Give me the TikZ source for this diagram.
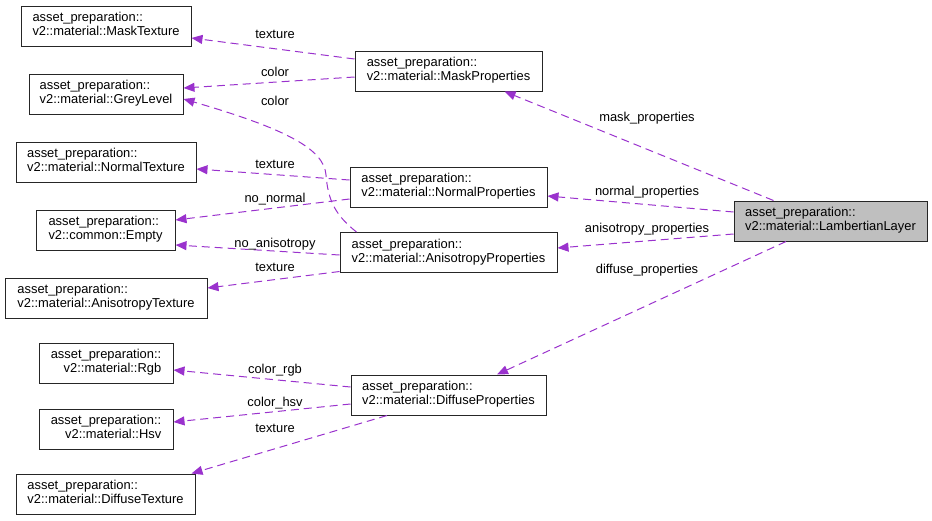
\documentclass[tikz,border=0pt]{standalone}
\usepackage{fontspec}
\setmainfont{Liberation Sans}
\usetikzlibrary{arrows.meta}
\definecolor{edgecol}{HTML}{9A32CD}
\definecolor{llfill}{HTML}{BFBFBF}
\newcommand\twoln[2]{\begin{tabular}{@{}l@{}}#1\\\hfill#2\hfill\end{tabular}}
\begin{document}
\begin{tikzpicture}[x=1pt,y=-1pt,
  font=\fontsize{12.9}{14}\selectfont,
  box/.style={draw=black!85, line width=1pt, minimum height=40pt, inner sep=0pt, fill=white},
  edge/.style={draw=edgecol, line width=1pt, dash pattern=on 8pt off 5pt,
    -{Triangle[length=11pt,width=9pt,fill=edgecol]}},
  lbl/.style={anchor=base, inner sep=0pt}]
\useasboundingbox (0,0) rectangle (932,520);
% left column
\node[box, minimum width=170pt] (mt) at (106,26) {\twoln{asset\_preparation::}{v2::material::MaskTexture}};
\node[box, minimum width=154pt] (gl) at (106,94) {\twoln{asset\_preparation::}{v2::material::GreyLevel}};
\node[box, minimum width=180pt] (nt) at (106,162) {\twoln{asset\_preparation::}{v2::material::NormalTexture}};
\node[box, minimum width=139pt] (em) at (105.5,230) {\twoln{asset\_preparation::}{v2::common::Empty}};
\node[box, minimum width=202pt] (at) at (106,298) {\twoln{asset\_preparation::}{v2::material::AnisotropyTexture}};
\node[box, minimum width=134pt] (rgb) at (106,363) {\twoln{asset\_preparation::}{v2::material::Rgb}};
\node[box, minimum width=134pt] (hsv) at (106,429) {\twoln{asset\_preparation::}{v2::material::Hsv}};
\node[box, minimum width=179pt] (dt) at (105.5,494) {\twoln{asset\_preparation::}{v2::material::DiffuseTexture}};
% middle column
\node[box, minimum width=187pt] (mp) at (448.5,71) {\twoln{asset\_preparation::}{v2::material::MaskProperties}};
\node[box, minimum width=197pt] (np) at (448.5,187) {\twoln{asset\_preparation::}{v2::material::NormalProperties}};
\node[box, minimum width=217pt] (ap) at (448.5,252.5) {\twoln{asset\_preparation::}{v2::material::AnisotropyProperties}};
\node[box, minimum width=195pt] (dp) at (448.5,395) {\twoln{asset\_preparation::}{v2::material::DiffuseProperties}};
% right
\node[box, fill=llfill, minimum width=193pt] (ll) at (830.5,221) {\twoln{asset\_preparation::}{v2::material::LambertianLayer}};
% edges
\draw[edge] ([yshift=12pt]mp.west) -- ([yshift=-12pt]mt.east);
\draw[edge] ([yshift=-6pt]mp.west) -- ([yshift=6pt]gl.east);
\draw[edge] ([xshift=17pt]ap.north west) .. controls (335,215) and (328,200) .. (326,175)
  .. controls (324,150) and (290,130) .. ([yshift=-5pt]gl.east);
\draw[edge] ([yshift=7pt]np.west) -- ([yshift=-7pt]nt.east);
\draw[edge] ([yshift=-12pt]np.west) -- ([yshift=10pt]em.east);
\draw[edge] ([yshift=-2.5pt]ap.west) -- ([yshift=-15pt]em.east);
\draw[edge] ([yshift=-19pt]ap.west) -- ([yshift=10pt]at.east);
\draw[edge] ([yshift=8pt]dp.west) -- ([yshift=-7pt]rgb.east);
\draw[edge] ([yshift=-9pt]dp.west) -- ([yshift=7pt]hsv.east);
\draw[edge] ([xshift=-61.5pt]dp.south) -- ([xshift=-4pt]dt.north east);
\draw[edge] ([xshift=-57pt]ll.north) -- ([xshift=56pt]mp.south);
\draw[edge] ([yshift=9pt]ll.west) -- ([yshift=-9pt]np.east);
\draw[edge] ([yshift=-13pt]ll.west) -- ([yshift=4.5pt]ap.east);
\draw[edge] ([xshift=-44.5pt]ll.south) -- ([xshift=48.5pt]dp.north);
% labels
\node[lbl] (l1) at (275,38.5) {texture};
\node[lbl] (l2) at (275,76.5) {color};
\node[lbl] (l3) at (275,105.5) {color};
\node[lbl] (l4) at (275,168.5) {texture};
\node[lbl] (l5) at (275,202.5) {no\_normal};
\node[lbl] (l6) at (275,247.5) {no\_anisotropy};
\node[lbl] (l7) at (275,271.5) {texture};
\node[lbl] (l8) at (275,373.5) {color\_rgb};
\node[lbl] (l9) at (275,406.5) {color\_hsv};
\node[lbl] (l10) at (275,432.5) {texture};
\node[lbl] (l11) at (647,121.5) {mask\_properties};
\node[lbl] (l12) at (647,195.5) {normal\_properties};
\node[lbl] (l13) at (647,232.5) {anisotropy\_properties};
\node[lbl] (l14) at (647,273.5) {diffuse\_properties};
\end{tikzpicture}
\end{document}
